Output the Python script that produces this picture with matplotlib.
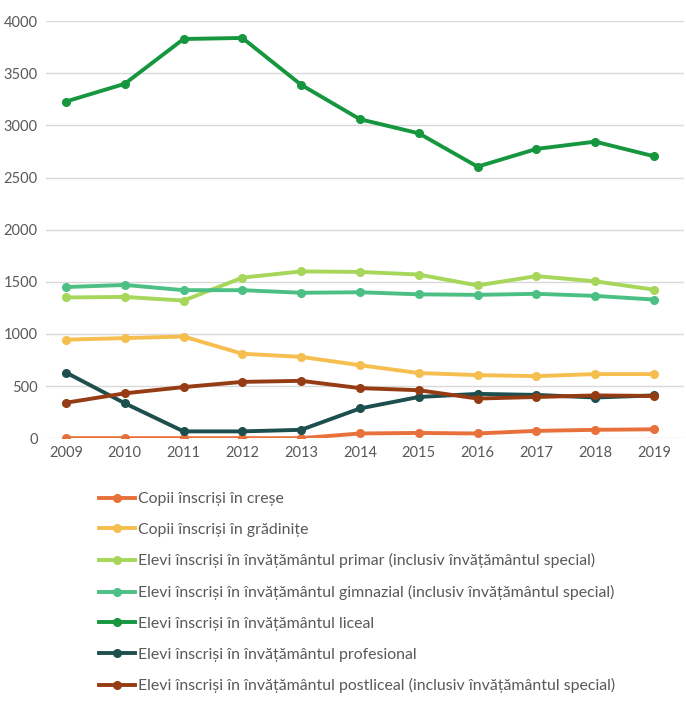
import matplotlib
matplotlib.use("Agg")
import matplotlib.pyplot as plt

# data
years = ["2009", "2010", "2011", "2012", "2013", "2014", "2015", "2016", "2017", "2018", "2019"]
crese       = [0, 0, 0, 0, 0, 45, 50, 45, 70, 80, 85]
gradinite   = [945, 960, 975, 810, 780, 700, 625, 605, 595, 615, 615]
primar      = [1350, 1355, 1320, 1540, 1600, 1595, 1570, 1465, 1555, 1505, 1425]
gimnazial   = [1450, 1470, 1420, 1420, 1395, 1400, 1380, 1375, 1385, 1365, 1330]
liceal      = [3230, 3400, 3830, 3840, 3390, 3060, 2925, 2605, 2775, 2845, 2705]
profesional = [630, 335, 65, 65, 80, 285, 395, 425, 415, 390, 410]
postliceal  = [340, 430, 490, 540, 550, 480, 460, 380, 395, 410, 405]

labels = ["Copii înscriși în creșe",
          "Copii înscriși în grădinițe",
          "Elevi înscriși în învățământul primar (inclusiv învățământul special)",
          "Elevi înscriși în învățământul gimnazial (inclusiv învățământul special)",
          "Elevi înscriși în învățământul liceal",
          "Elevi înscriși în învățământul profesional",
          "Elevi înscriși în învățământul postliceal (inclusiv învățământul special)"]
series = [crese, gradinite, primar, gimnazial, liceal, profesional, postliceal]
colors = ["#E8703A", "#F5BE4F", "#A6D65A", "#4CC084", "#16963E", "#1D4F4F", "#963C14"]

plt.rcParams['font.family'] = ['Lato', 'DejaVu Sans']

fig = plt.figure(figsize=(6.86, 7.09), dpi=100)
ax = fig.add_axes([0.067, 0.382, 0.93, 0.588])

x = list(range(len(years)))
for ys, lab, col in zip(series, labels, colors):
    ax.plot(x, ys, color=col, lw=2.8, marker='o', ms=5.5, label=lab)

ax.set_ylim(0, 4000)
ax.set_yticks(range(0, 4001, 500))
ax.set_xlim(-0.34, 10.51)
ax.set_xticks(x)
ax.set_xticklabels(years)
ax.grid(axis='y', color='#D9D9D9', lw=1)
ax.set_axisbelow(True)
for s in ax.spines.values():
    s.set_visible(False)
ax.tick_params(length=0, colors='#595959', labelsize=10.5, pad=6)

ax.legend(loc='upper left', bbox_to_anchor=(0.135, 0.315), bbox_transform=fig.transFigure,
          frameon=False, fontsize=11.4, labelcolor='#595959', handlelength=2.3,
          handletextpad=0.15, labelspacing=1.05, borderaxespad=0)

fig.savefig("out.png", dpi=100)
